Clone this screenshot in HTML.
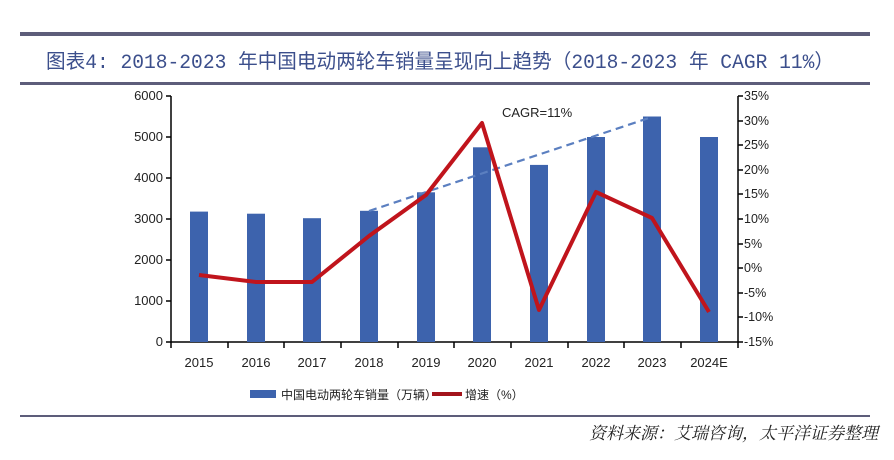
<!DOCTYPE html>
<html><head><meta charset="utf-8"><style>
body{margin:0;background:#fff;}
svg{display:block;font-family:"Liberation Sans","Noto Sans CJK SC",sans-serif;}
</style></head><body>
<svg width="894" height="460" viewBox="0 0 894 460">
<rect x="20" y="32" width="850" height="4" fill="#5d5d7a"/>
<text x="46" y="68" font-size="20" fill="#3c4f8c" font-family="Liberation Mono,'Noto Sans CJK SC',monospace" textLength="788" lengthAdjust="spacingAndGlyphs">图表4: 2018-2023 年中国电动两轮车销量呈现向上趋势（2018-2023 年 CAGR 11%）</text>
<rect x="20" y="82" width="850" height="3" fill="#5d5d7a"/>
<g font-size="13" fill="#222" text-anchor="end">
<text x="163" y="100">6000</text><text x="163" y="141">5000</text><text x="163" y="182">4000</text>
<text x="163" y="223">3000</text><text x="163" y="264">2000</text><text x="163" y="305">1000</text><text x="163" y="346">0</text>
</g>
<g font-size="12.5" fill="#222">
<text x="744" y="100">35%</text><text x="744" y="125">30%</text><text x="744" y="149">25%</text><text x="744" y="174">20%</text>
<text x="744" y="198">15%</text><text x="744" y="223">10%</text><text x="744" y="248">5%</text><text x="744" y="272">0%</text>
<text x="744" y="297">-5%</text><text x="744" y="321">-10%</text><text x="744" y="346">-15%</text>
</g>
<g stroke="#000" stroke-width="1.5" fill="none">
<path d="M171 96V342H738V96"/>
<path d="M166 96H171M166 137H171M166 178H171M166 219H171M166 260H171M166 301H171M166 342H171"/>
<path d="M738 96H743M738 121H743M738 145H743M738 170H743M738 194H743M738 219H743M738 244H743M738 268H743M738 293H743M738 317H743M738 342H743"/>
<path d="M171 342v6M228 342v6M284 342v6M341 342v6M398 342v6M454 342v6M511 342v6M568 342v6M624 342v6M681 342v6M738 342v6"/>
</g>
<g fill="#3d63ad">
<rect x="190" y="211.6" width="18" height="130.4"/>
<rect x="247" y="213.7" width="18" height="128.3"/>
<rect x="303" y="218.2" width="18" height="123.8"/>
<rect x="360" y="210.8" width="18" height="131.2"/>
<rect x="417" y="192.3" width="18" height="149.7"/>
<rect x="473" y="147.3" width="18" height="194.7"/>
<rect x="530" y="164.9" width="18" height="177.1"/>
<rect x="587" y="137" width="18" height="205"/>
<rect x="643" y="116.5" width="18" height="225.5"/>
<rect x="700" y="137" width="18" height="205"/>
</g>
<path d="M369 211L652 117" stroke="#5b7fc0" stroke-width="2.2" stroke-dasharray="8,5" fill="none"/>
<polyline points="199,275 256,282 312,282 369,236 426,195 482,123 539,310 596,192 652,218 709,312" fill="none" stroke="#c0141c" stroke-width="4" stroke-linejoin="round"/>
<text x="502" y="117" font-size="13" fill="#222">CAGR=11%</text>
<g font-size="13" fill="#222" text-anchor="middle">
<text x="199" y="367">2015</text><text x="256" y="367">2016</text><text x="312" y="367">2017</text><text x="369" y="367">2018</text>
<text x="426" y="367">2019</text><text x="482" y="367">2020</text><text x="539" y="367">2021</text><text x="596" y="367">2022</text>
<text x="652" y="367">2023</text><text x="709" y="367">2024E</text>
</g>
<rect x="250" y="390" width="26" height="8" fill="#3d63ad"/>
<text x="281" y="399" font-size="12" fill="#222">中国电动两轮车销量（万辆）</text>
<rect x="432" y="392" width="30" height="4" fill="#a3141c"/>
<text x="465" y="399" font-size="12" fill="#222">增速（%）</text>
<rect x="20" y="415" width="850" height="2" fill="#5d5d7a"/>
<text x="878" y="439" font-size="17" fill="#222" text-anchor="end" font-style="italic" font-family="'Noto Serif CJK SC',serif">资料来源：艾瑞咨询，太平洋证券整理</text>
</svg>
</body></html>
